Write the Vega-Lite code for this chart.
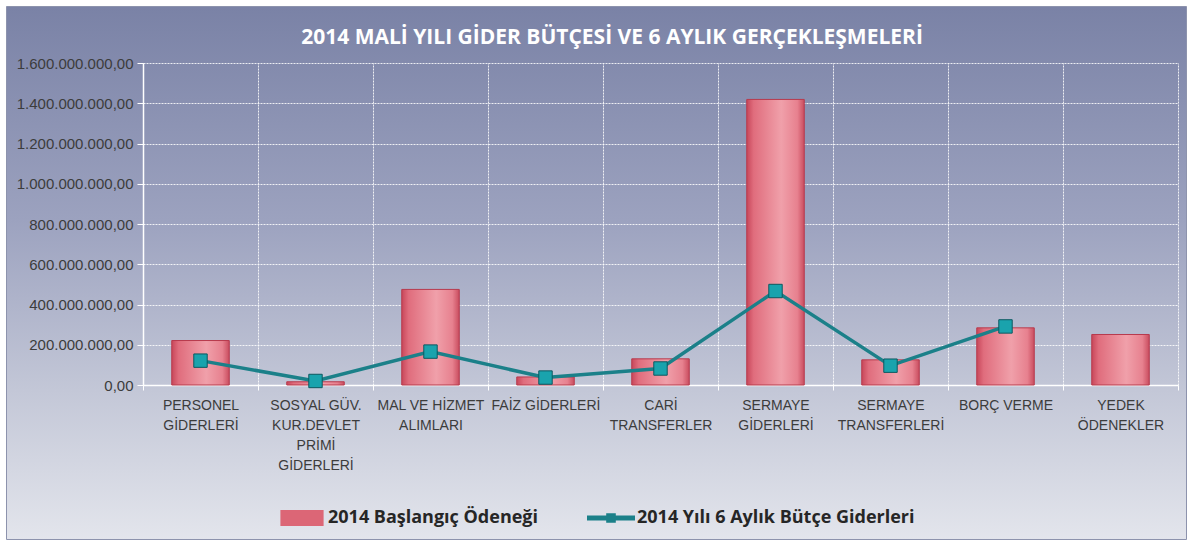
{
  "$schema": "https://vega.github.io/schema/vega-lite/v6.json",
  "width": 1180,
  "height": 533,
  "padding": 6,
  "autosize": {"type": "none"},
  "background": "#ffffff",
  "title": {
    "text": "2014 MALİ YILI  GİDER BÜTÇESİ VE 6 AYLIK GERÇEKLEŞMELERİ",
    "frame": "group",
    "anchor": "middle",
    "orient": "top",
    "offset": -59,
    "baseline": "alphabetic",
    "dx": 16,
    "font": "Open Sans",
    "fontSize": 21,
    "fontWeight": "bold",
    "color": "#ffffff"
  },
  "config": {
    "locale": {"number": {"decimal": ",", "thousands": ".", "grouping": [3], "currency": ["", " TL"]}},
    "view": {
      "fill": {
        "gradient": "linear",
        "x1": 0, "y1": 0, "x2": 0, "y2": 1,
        "stops": [
          {"offset": 0, "color": "#7a82a6"},
          {"offset": 0.4, "color": "#9ca2bf"},
          {"offset": 0.72, "color": "#c3c7d7"},
          {"offset": 1, "color": "#e3e5ec"}
        ]
      },
      "stroke": "#8d93ad",
      "strokeWidth": 1
    },
    "axis": {
      "labelFont": "Liberation Sans",
      "labelColor": "#3c3c3c",
      "domainColor": "#ffffff",
      "domainWidth": 1.5,
      "tickColor": "#ffffff",
      "tickWidth": 1,
      "gridColor": "#ffffff",
      "gridDash": [2, 1],
      "gridOpacity": 0.85,
      "gridWidth": 1,
      "title": null
    }
  },
  "data": {
    "values": [
      {"kalem": "PERSONEL GİDERLERİ", "baslangic": 221000000, "gider6ay": 121000000},
      {"kalem": "SOSYAL GÜV. KUR.DEVLET PRİMİ GİDERLERİ", "baslangic": 16000000, "gider6ay": 20000000},
      {"kalem": "MAL VE HİZMET ALIMLARI", "baslangic": 475000000, "gider6ay": 166000000},
      {"kalem": "FAİZ GİDERLERİ", "baslangic": 40000000, "gider6ay": 37000000},
      {"kalem": "CARİ TRANSFERLER", "baslangic": 130000000, "gider6ay": 82000000},
      {"kalem": "SERMAYE GİDERLERİ", "baslangic": 1419000000, "gider6ay": 467000000},
      {"kalem": "SERMAYE TRANSFERLERİ", "baslangic": 125000000, "gider6ay": 96000000},
      {"kalem": "BORÇ VERME", "baslangic": 284000000, "gider6ay": 291000000},
      {"kalem": "YEDEK ÖDENEKLER", "baslangic": 251000000, "gider6ay": null}
    ]
  },
  "resolve": {"axis": {"x": "independent"}},
  "layer": [
    {
      "mark": {
        "type": "bar",
        "width": {"band": 0.5},
        "fill": {
          "gradient": "linear",
          "x1": 0, "y1": 0, "x2": 1, "y2": 0,
          "stops": [
            {"offset": 0, "color": "#c8475a"},
            {"offset": 0.12, "color": "#e06d7d"},
            {"offset": 0.6, "color": "#f0a0aa"},
            {"offset": 0.88, "color": "#e7818f"},
            {"offset": 1, "color": "#c94d5f"}
          ]
        },
        "stroke": "#b73a4d",
        "strokeWidth": 1
      },
      "encoding": {
        "x": {
          "field": "kalem",
          "type": "nominal",
          "sort": null,
          "scale": {"type": "band", "range": [137, 1172], "paddingInner": 0, "paddingOuter": 0},
          "axis": {
            "orient": "bottom",
            "offset": -154,
            "tickBand": "extent",
            "grid": false,
            "tickSize": 5,
            "labelAngle": 0,
            "labelAlign": "center",
            "labelBaseline": "top",
            "labelFontSize": 14,
            "labelLineHeight": 20,
            "labelPadding": 8,
            "labelLimit": 0,
            "labelExpr": "({'PERSONEL GİDERLERİ': ['PERSONEL','GİDERLERİ'], 'SOSYAL GÜV. KUR.DEVLET PRİMİ GİDERLERİ': ['SOSYAL GÜV.','KUR.DEVLET','PRİMİ','GİDERLERİ'], 'MAL VE HİZMET ALIMLARI': ['MAL VE HİZMET','ALIMLARI'], 'CARİ TRANSFERLER': ['CARİ','TRANSFERLER'], 'SERMAYE GİDERLERİ': ['SERMAYE','GİDERLERİ'], 'SERMAYE TRANSFERLERİ': ['SERMAYE','TRANSFERLERİ'], 'YEDEK ÖDENEKLER': ['YEDEK','ÖDENEKLER']})[datum.label] || datum.label"
          }
        },
        "y": {
          "field": "baslangic",
          "type": "quantitative",
          "scale": {"domain": [0, 1600000000], "range": [379, 57], "nice": false, "zero": true},
          "axis": {
            "orient": "left",
            "offset": -137,
            "values": [0, 200000000, 400000000, 600000000, 800000000, 1000000000, 1200000000, 1400000000, 1600000000],
            "format": ",.2f",
            "grid": true,
            "tickSize": 6,
            "labelFontSize": 15,
            "labelPadding": 4
          }
        }
      }
    },
    {
      "mark": {"type": "line", "strokeWidth": 3.5},
      "encoding": {
        "x": {
          "field": "kalem",
          "type": "nominal",
          "sort": null,
          "axis": {
            "orient": "top",
            "offset": 0,
            "tickBand": "extent",
            "grid": true,
            "labels": false,
            "ticks": false,
            "domain": false
          }
        },
        "y": {"field": "gider6ay", "type": "quantitative"},
        "color": {
          "datum": "2014 Yılı 6 Aylık Bütçe Giderleri",
          "type": "nominal",
          "scale": {
            "domain": ["2014 Başlangıç Ödeneği", "2014 Yılı 6 Aylık Bütçe Giderleri"],
            "range": ["#dc6676", "#1b8089"]
          },
          "legend": {
            "orient": "none",
            "legendX": 272,
            "legendY": 488,
            "direction": "horizontal",
            "title": null,
            "symbolSize": 2304,
            "labelFont": "Open Sans",
            "labelFontWeight": "bold",
            "labelFontSize": 18,
            "labelColor": "#262626",
            "labelOffset": 2,
            "columnPadding": 48,
            "labelLimit": 0,
            "encode": {
              "symbols": {
                "update": {
                  "shape": {"signal": "datum.value === '2014 Başlangıç Ödeneği' ? 'M-0.9,-0.33H0.9V0.33H-0.9Z' : 'M-1,-0.1H-0.2V-0.2H0.2V-0.1H1V0.1H0.2V0.2H-0.2V0.1H-1Z'"},
                  "fill": {"signal": "scale('color', datum.value)"},
                  "fillOpacity": {"value": 1},
                  "opacity": {"value": 1},
                  "strokeWidth": {"value": 0}
                }
              }
            }
          }
        }
      }
    },
    {
      "mark": {"type": "point", "shape": "square", "size": 180, "filled": true, "fill": "#1aa3ad", "stroke": "#0c5960", "strokeWidth": 1, "opacity": 1},
      "encoding": {
        "x": {"field": "kalem", "type": "nominal", "sort": null, "axis": null},
        "y": {"field": "gider6ay", "type": "quantitative"}
      }
    }
  ]
}
